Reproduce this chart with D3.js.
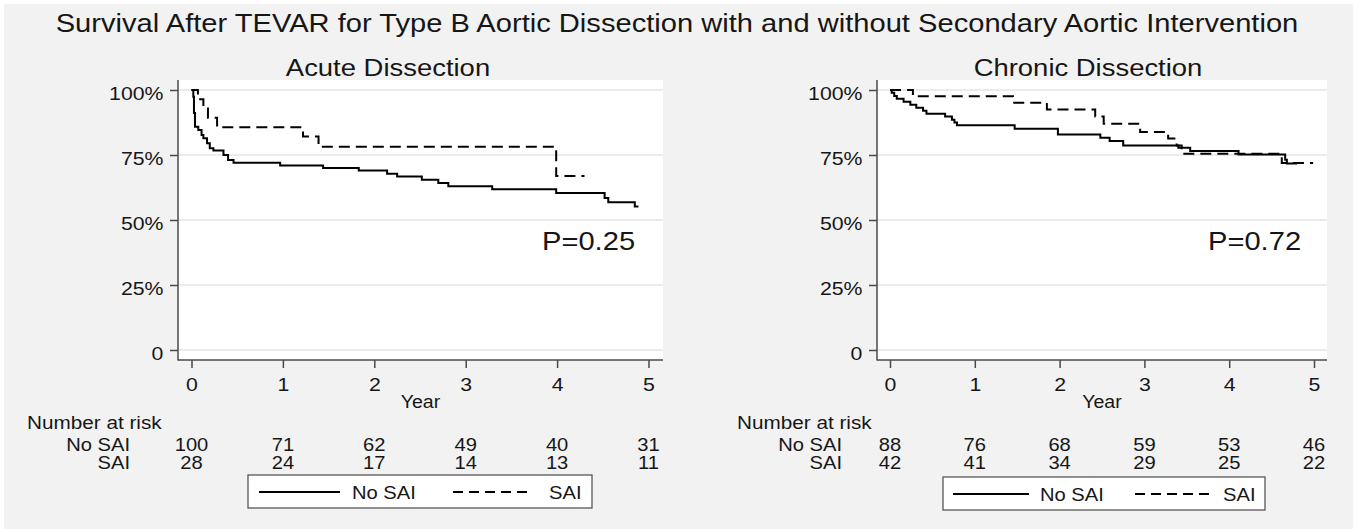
<!DOCTYPE html>
<html>
<head>
<meta charset="utf-8">
<script src="https://cdn.jsdelivr.net/npm/d3@7"></script>
<style>
body { margin: 0; background: #fff; }
svg text { font-family: "Liberation Sans", Arial, sans-serif; fill: #161616; }
</style>
</head>
<body>
<div id="chart"></div>
<script>
// Kaplan-Meier steps: [year, survival] (last point = end of follow-up)
const acuteNoSAI = [[0, 1], [0.02, 0.974], [0.027, 0.912], [0.038, 0.859], [0.074, 0.846], [0.11, 0.827],
  [0.13, 0.814], [0.17, 0.795], [0.20, 0.776], [0.24, 0.767], [0.35, 0.75], [0.40, 0.731], [0.46, 0.72],
  [0.97, 0.71], [1.44, 0.70], [1.83, 0.69], [2.14, 0.678], [2.25, 0.667], [2.52, 0.655], [2.70, 0.642],
  [2.81, 0.63], [3.29, 0.618], [3.99, 0.604], [4.52, 0.585], [4.56, 0.568], [4.85, 0.552], [4.89, 0.552]];
const acuteSAI = [[0, 1], [0.07, 0.964], [0.13, 0.929], [0.18, 0.893], [0.28, 0.857], [1.22, 0.821],
  [1.39, 0.782], [3.99, 0.669], [4.30, 0.669]];
const chronicNoSAI = [[0, 1], [0.02, 0.989], [0.05, 0.977], [0.08, 0.966], [0.16, 0.955], [0.24, 0.943],
  [0.31, 0.932], [0.39, 0.920], [0.43, 0.909], [0.65, 0.898], [0.73, 0.886], [0.76, 0.875], [0.79, 0.864],
  [1.47, 0.851], [1.98, 0.829], [2.48, 0.816], [2.59, 0.804], [2.75, 0.787], [3.40, 0.778], [3.54, 0.765],
  [4.11, 0.752], [4.66, 0.732], [4.68, 0.717], [4.80, 0.717]];
const chronicSAI = [[0, 1], [0.27, 0.976], [1.45, 0.951], [1.85, 0.925], [2.42, 0.898], [2.52, 0.870],
  [2.95, 0.838], [3.28, 0.813], [3.38, 0.787], [3.44, 0.755], [4.62, 0.719], [4.99, 0.719]];

const years = [0, 1, 2, 3, 4, 5];
const pctTicks = [0, 0.25, 0.5, 0.75, 1];
const pctLabels = ["0", "25%", "50%", "75%", "100%"];
const groupNames = ["No SAI", "SAI"];

const acuteRiskNoSAI = [100, 71, 62, 49, 40, 31];
const acuteRiskSAI = [28, 24, 17, 14, 13, 11];
const chronicRiskNoSAI = [88, 76, 68, 59, 53, 46];
const chronicRiskSAI = [42, 41, 34, 29, 25, 22];

const W = 1353, H = 529;
const SX = 1.12; // the original figure is a bit stretched sideways

var svg = d3.select("#chart").append("svg")
  .attr("width", W)
  .attr("height", H);

svg.append("rect")
  .attr("x", 4).attr("y", 4)
  .attr("width", W - 4).attr("height", H - 4)
  .attr("fill", "#f2f2f2");

function txt(g, x, y, s, size, anchor) {
  return g.append("text")
    .attr("transform", `translate(${x},${y}) scale(${SX},1)`)
    .attr("text-anchor", anchor || "start")
    .style("font-size", size + "px")
    .text(s);
}

txt(svg, 677, 32, "Survival After TEVAR for Type B Aortic Dissection with and without Secondary Aortic Intervention", 26, "middle");

function drawPanel(p) {
  var x = d3.scaleLinear().domain([0, 5]).range([p.x0, p.x5]);
  var y = d3.scaleLinear().domain([0, 1]).range([350, 90]);
  var g = svg.append("g");

  g.append("rect")
    .attr("x", p.left).attr("y", 80)
    .attr("width", p.right - p.left).attr("height", 280)
    .attr("fill", "#fff");

  // gridlines
  g.selectAll(".grid").data(pctTicks).join("line")
    .attr("class", "grid")
    .attr("x1", p.left).attr("x2", p.right)
    .attr("y1", d => y(d)).attr("y2", d => y(d))
    .attr("stroke", "#ebebeb").attr("stroke-width", 2);

  var yAxis = d3.axisLeft(y).tickValues(pctTicks)
    .tickFormat((d, i) => pctLabels[i]).tickSize(8).tickPadding(5);
  var gy = g.append("g").attr("transform", `translate(${p.left},0)`).attr("color", "#4a4a4a").call(yAxis);
  gy.select(".domain").remove();

  var xAxis = d3.axisBottom(x).tickValues(years).tickFormat(d3.format("d")).tickSize(8).tickPadding(10);
  var gx = g.append("g").attr("transform", "translate(0,360)").attr("color", "#4a4a4a").call(xAxis);
  gx.select(".domain").remove();

  [gy, gx].forEach(a => {
    a.selectAll("line").attr("stroke-width", 1.5);
    a.selectAll("text")
      .style("font-size", "19px").style("fill", "#161616")
      .attr("transform", `scale(${SX},1)`);
  });
  gy.selectAll("text").attr("dy", "0.5em");

  g.append("line").attr("x1", p.left).attr("x2", p.left).attr("y1", 80).attr("y2", 360.5)
    .attr("stroke", "#4a4a4a").attr("stroke-width", 1.5);
  g.append("line").attr("x1", p.left).attr("x2", p.right).attr("y1", 360).attr("y2", 360)
    .attr("stroke", "#4a4a4a").attr("stroke-width", 1.5);

  var line = d3.line()
    .x(d => x(d[0]))
    .y(d => y(d[1]))
    .curve(d3.curveStepAfter);

  g.append("path").datum(p.noSAI)
    .attr("d", line).attr("fill", "none")
    .attr("stroke", "#000").attr("stroke-width", 2);
  g.append("path").datum(p.sai)
    .attr("d", line).attr("fill", "none")
    .attr("stroke", "#000").attr("stroke-width", 2)
    .attr("stroke-dasharray", "11,6");

  var cx = (p.left + p.right) / 2;
  txt(g, p.titleX, 76, p.title, 24.5, "middle");
  txt(g, p.pX, 250, p.pval, 26);
  txt(g, cx, 408, "Year", 17.5, "middle");

  // number at risk table
  txt(g, p.nrX, 429, "Number at risk", 18.5);
  txt(g, p.lblX, 451, groupNames[0], 18, "end");
  txt(g, p.lblX, 469, groupNames[1], 18, "end");
  years.forEach((yr, i) => {
    txt(g, x(yr), 451, p.riskNoSAI[i], 18, "middle");
    txt(g, x(yr), 469, p.riskSAI[i], 18, "middle");
  });

  // legend
  var L = p.legend;
  g.append("rect")
    .attr("x", L.x).attr("y", L.y).attr("width", L.w).attr("height", 33)
    .attr("fill", "#fff").attr("stroke", "#4a4a4a").attr("stroke-width", 1.2);
  g.append("line").attr("x1", L.l1[0]).attr("x2", L.l1[1]).attr("y1", L.y + 17).attr("y2", L.y + 17)
    .attr("stroke", "#000").attr("stroke-width", 2);
  txt(g, L.t1, L.y + 24, groupNames[0], 18);
  g.append("line").attr("x1", L.l2[0]).attr("x2", L.l2[1]).attr("y1", L.y + 17).attr("y2", L.y + 17)
    .attr("stroke", "#000").attr("stroke-width", 2).attr("stroke-dasharray", "10,6");
  txt(g, L.t2, L.y + 24, groupNames[1], 18);
}

drawPanel({
  title: "Acute Dissection", pval: "P=0.25", titleX: 388,
  left: 178, right: 663, x0: 191.5, x5: 648.5,
  noSAI: acuteNoSAI, sai: acuteSAI,
  riskNoSAI: acuteRiskNoSAI, riskSAI: acuteRiskSAI,
  nrX: 27, lblX: 130, pX: 542,
  legend: { x: 248, y: 475, w: 344, l1: [259, 340], t1: 352, l2: [453, 531], t2: 549 }
});

drawPanel({
  title: "Chronic Dissection", pval: "P=0.72", titleX: 1088,
  left: 877, right: 1327, x0: 890, x5: 1314,
  noSAI: chronicNoSAI, sai: chronicSAI,
  riskNoSAI: chronicRiskNoSAI, riskSAI: chronicRiskSAI,
  nrX: 737, lblX: 842, pX: 1208,
  legend: { x: 943, y: 477, w: 322, l1: [953, 1029], t1: 1040, l2: [1135, 1210], t2: 1223 }
});
</script>
</body>
</html>
